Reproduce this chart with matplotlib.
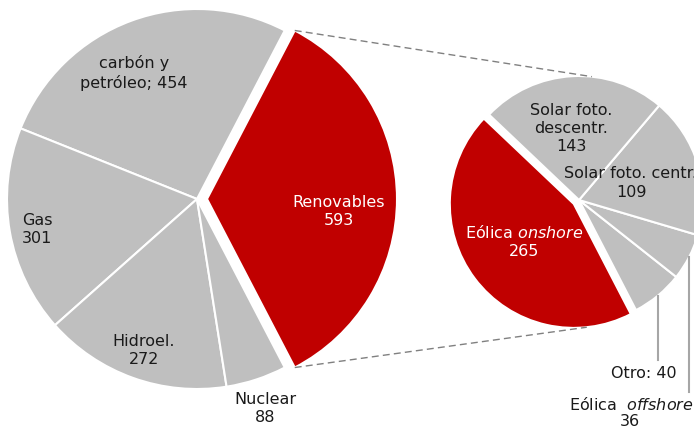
import numpy as np
import matplotlib
matplotlib.use("Agg")
import matplotlib.pyplot as plt

# datos
mix_labels = ["Renovables", "carbón y petróleo", "Gas", "Hidroel.", "Nuclear"]
mix_values = [593, 454, 301, 272, 88]
ren_labels = ["Eólica onshore", "Otro", "Eólica offshore", "Solar foto. centr.", "Solar foto. descentr."]
ren_values = [265, 40, 36, 109, 143]

RED = "#c00000"
GREY = "#bfbfbf"
TXT = "#1a1a1a"
W, H = 694, 428

fig = plt.figure(figsize=(W / 100, H / 100), dpi=100)
ax = fig.add_axes([0, 0, 1, 1])

wp = dict(edgecolor="white", linewidth=1.5)

# pastel principal (explode en unidades de datos)
start_l = -0.5 * mix_values[0] / sum(mix_values) * 360
lw, _ = ax.pie(mix_values, colors=[RED] + [GREY] * 4, startangle=start_l,
               explode=[10, 0, 0, 0, 0], radius=190, center=(197, 229),
               wedgeprops=wp)

# pastel de renovables
rw, _ = ax.pie(ren_values, colors=[RED] + [GREY] * 4, startangle=136.5,
               explode=[6.5, 0, 0, 0, 0], radius=124, center=(579, 228),
               wedgeprops=wp)

ax.set_xlim(0, W)
ax.set_ylim(0, H)
ax.set_aspect("equal")
ax.axis("off")

# lineas de conexion
w0 = lw[0]
cx, cy = w0.center
p_top = (cx + w0.r * np.cos(np.radians(w0.theta2)), cy + w0.r * np.sin(np.radians(w0.theta2)))
p_bot = (cx + w0.r * np.cos(np.radians(w0.theta1)), cy + w0.r * np.sin(np.radians(w0.theta1)))
r0 = rw[0]
q_top = (579 + 124 * np.cos(np.radians(84)), 228 + 124 * np.sin(np.radians(84)))
q_bot = (r0.center[0] + r0.r * np.cos(np.radians(276)), r0.center[1] + r0.r * np.sin(np.radians(276)))
for a, b in [(p_top, q_top), (p_bot, q_bot)]:
    ax.plot([a[0], b[0]], [a[1], b[1]], ls=(0, (5, 3)), color="#808080", lw=1)

# lineas guia
for w, yend in [(rw[1], H - 360), (rw[2], H - 392)]:
    m = np.radians((w.theta1 + w.theta2) / 2)
    x0 = w.center[0] + w.r * np.cos(m)
    y0 = w.center[1] + w.r * np.sin(m)
    ax.plot([x0, x0], [y0, yend], color="#a6a6a6", lw=1.5)

fs = 11.5
def t(x, y, s, c=TXT, ha="center"):
    ax.text(x, H - y, s, color=c, ha=ha, va="center", fontsize=fs,
            linespacing=1.25, multialignment="center")

t(134, 73, "carbón y\npetróleo; 454")
t(22, 229, "Gas\n301", ha="left")
t(144, 350, "Hidroel.\n272")
t(265, 408, "Nuclear\n88")
t(339, 211, "Renovables\n593", c="white")
t(571, 128, "Solar foto.\ndescentr.\n143")
ax.text(564, H - 173, "Solar foto. centr.", color=TXT, ha="left", va="center", fontsize=fs)
t(632, 192, "109")
t(524, 241, "Eólica $\\mathit{onshore}$\n265", c="white")
t(677, 374, "Otro: 40", ha="right")
ax.text(569, H - 404, "Eólica  $\\mathit{offshore}$", color=TXT, ha="left", va="center", fontsize=fs)
t(630, 421, "36")

fig.savefig("out.png", dpi=100)
